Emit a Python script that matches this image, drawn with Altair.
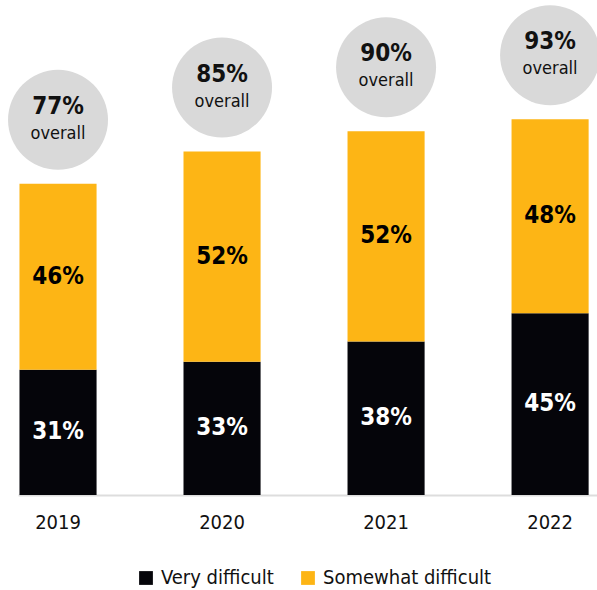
import altair as alt
import pandas as pd

years = ["2019", "2020", "2021", "2022"]
very = [31, 33, 38, 45]
somewhat = [46, 52, 52, 48]
overall = [77, 85, 90, 93]
categories = ["Very difficult", "Somewhat difficult"]
colors = ["#05050a", "#fdb515"]

FONT = "DejaVu Sans Condensed, sans-serif"

rows = []
for i, y in enumerate(years):
    rows.append({"year": y, "cat": categories[0], "value": very[i], "order": 0,
                 "mid": very[i] / 2, "lbl": f"{very[i]}%", "tcol": "white"})
    rows.append({"year": y, "cat": categories[1], "value": somewhat[i], "order": 1,
                 "mid": very[i] + somewhat[i] / 2, "lbl": f"{somewhat[i]}%", "tcol": "black"})
df = pd.DataFrame(rows)
tot = pd.DataFrame({"year": years, "overall": overall,
                    "lbl": [f"{v}%" for v in overall], "sub": ["overall"] * 4})

xs = alt.X("year:N", title=None,
           scale=alt.Scale(range=[18, 597], paddingInner=0.53, paddingOuter=0.03, align=0.15),
           axis=alt.Axis(labelAngle=0, labelFontSize=20, labelFont=FONT, labelColor="#111111",
                         ticks=False, labelPadding=17, domainColor="#dddddd", domainWidth=2,
                         grid=False))
yscale = alt.Scale(domain=[0, 122.5], nice=False)

bars = alt.Chart(df).mark_bar().encode(
    x=xs,
    y=alt.Y("value:Q", stack="zero", scale=yscale, axis=None),
    color=alt.Color("cat:N", scale=alt.Scale(domain=categories, range=colors),
                    legend=alt.Legend(title=None, orient="none", legendX=136, legendY=568,
                                      direction="horizontal", symbolType="square",
                                      symbolSize=190, labelFontSize=20, labelFont=FONT,
                                      labelColor="#111111", labelLimit=300, columnPadding=24,
                                      symbolStrokeWidth=0, labelOffset=5)),
    order=alt.Order("order:Q"),
)

seg = alt.Chart(df).mark_text(fontSize=24, fontWeight="bold", font=FONT, baseline="middle").encode(
    x=alt.X("year:N"),
    y=alt.Y("mid:Q", scale=yscale),
    text="lbl:N",
    color=alt.Color("tcol:N", scale=None),
)

circ = alt.Chart(tot).mark_point(filled=True, shape="circle", size=10000, color="#d9d9d9",
                                 opacity=1, yOffset=-64).encode(
    x=alt.X("year:N"),
    y=alt.Y("overall:Q", scale=yscale),
)

pct = alt.Chart(tot).mark_text(fontSize=24, fontWeight="bold", font=FONT, color="#111111",
                               baseline="middle", yOffset=-77).encode(
    x=alt.X("year:N"), y=alt.Y("overall:Q", scale=yscale), text="lbl:N")

sub = alt.Chart(tot).mark_text(fontSize=18, font=FONT, color="#111111",
                               baseline="middle", yOffset=-50).encode(
    x=alt.X("year:N"), y=alt.Y("overall:Q", scale=yscale), text="sub:N")

chart = alt.layer(bars, seg, circ, pct, sub).properties(
    width=597, height=495,
    autosize=alt.AutoSizeParams(type="none"),
    padding={"left": 0, "top": 0, "right": 0, "bottom": 95},
).configure_view(stroke=None)

chart.save("out.html", embed_options={"renderer": "svg", "actions": False})
